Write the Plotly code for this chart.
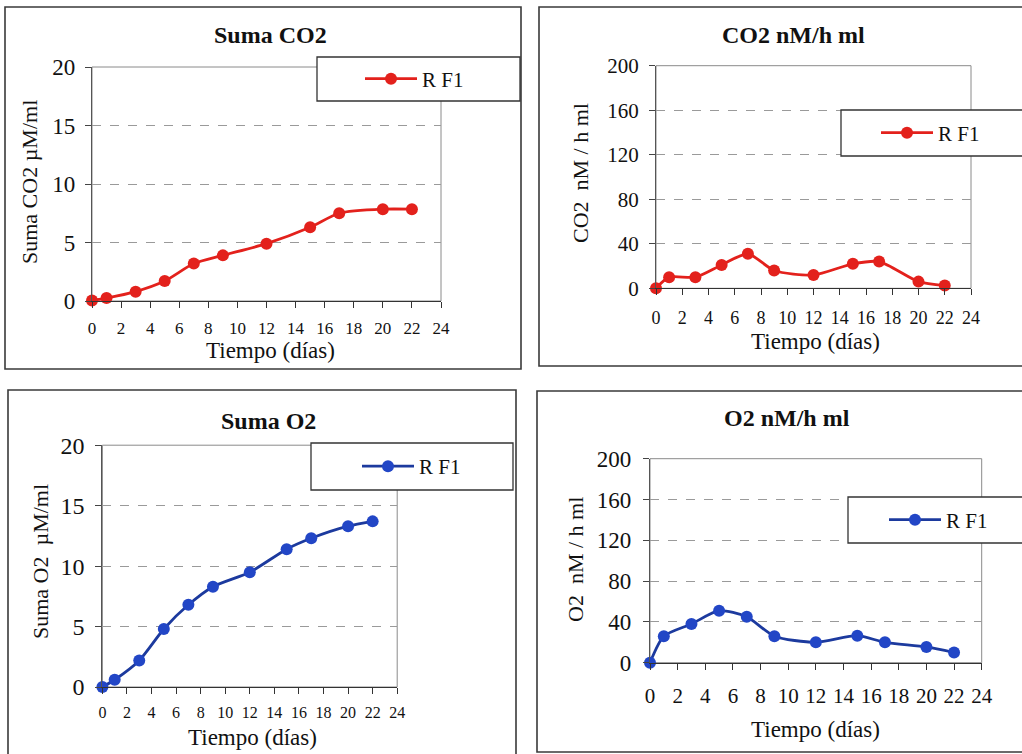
import plotly.graph_objects as go

# ---------------- data ----------------
dias = [0, 1, 3, 5, 7, 9, 12, 15, 17, 20, 22]
suma_co2 = [0.05, 0.25, 0.8, 1.7, 3.2, 3.9, 4.9, 6.3, 7.5, 7.85, 7.85]
co2_rate = [0, 10, 10, 21, 31, 16, 12, 22, 24, 6, 2.5]
suma_o2 = [0, 0.6, 2.2, 4.8, 6.8, 8.3, 9.5, 11.4, 12.3, 13.3, 13.7]
o2_rate = [0, 26, 38, 51, 45, 26, 20, 26.5, 20, 15.5, 10]

titles = ["Suma CO2", "CO2 nM/h ml", "Suma O2", "O2 nM/h ml"]
ytitles = ["Suma CO2 µM/ml", "CO2  nM / h ml", "Suma O2  µM/ml", "O2  nM / h ml"]
xtitle = "Tiempo (días)"
series_name = "R F1"
x_ticks = list(range(0, 25, 2))
y_ticks_sum = [0, 5, 10, 15, 20]
y_ticks_rate = [0, 40, 80, 120, 160, 200]

W, H = 1022, 754
FONT = "Liberation Serif"
RED = "#e3211c"
BLUE_M = "#2246c6"
BLUE_L = "#1c3a9e"


def px_x(v):
    return v / W


def px_y(v):
    return 1 - v / H


# panel geometry (pixels)
panels = [
    dict(plot=(92, 441, 67, 301), box=(5, 521, 7, 369), leg=(317, 520, 57, 101),
         title=(270, 35), ytit=(29, 182), xtit=(270, 351), yt_font=23, xt_font=17,
         xstand=5, ystand=5, yrange=20, yticks=y_ticks_sum, y=suma_co2, color=(RED, RED), legx=360),
    dict(plot=(656, 971, 65.7, 288.3), box=(539, 1030, 7, 366), leg=(841, 1030, 110, 156),
         title=(793, 35), ytit=(580, 173), xtit=(815, 341), yt_font=21, xt_font=18,
         xstand=7, ystand=6, yrange=200, yticks=y_ticks_rate, y=co2_rate, color=(RED, RED), legx=876),
    dict(plot=(102.4, 397.2, 445.2, 687), box=(8, 516, 390, 760), leg=(311, 513, 443, 490),
         title=(268, 420.5), ytit=(40, 562), xtit=(252, 737), yt_font=24, xt_font=16,
         xstand=5, ystand=6, yrange=20, yticks=y_ticks_sum, y=suma_o2, color=(BLUE_L, BLUE_M), legx=357),
    dict(plot=(650, 981.7, 458.7, 662.7), box=(537, 1030, 391, 752), leg=(848, 1030, 497, 543),
         title=(787, 418), ytit=(575, 560), xtit=(815, 729), yt_font=23, xt_font=21,
         xstand=8, ystand=7, yrange=200, yticks=y_ticks_rate, y=o2_rate, color=(BLUE_L, BLUE_M), legx=884),
]

fig = go.Figure()
shapes = []
annotations = []
layout = dict(
    width=W, height=H, autosize=False,
    margin=dict(l=0, r=0, t=0, b=0, pad=0, autoexpand=False),
    paper_bgcolor="white", plot_bgcolor="white",
    font=dict(family=FONT, color="#111"),
    showlegend=True,
)

for i, p in enumerate(panels):
    n = "" if i == 0 else str(i + 1)
    xa, ya = "xaxis" + n, "yaxis" + n
    xr, yr = "x" + n, "y" + n
    legname = "legend" + n
    x0, x1, y0, y1 = p["plot"]
    line_c, mark_c = p["color"]

    fig.add_trace(go.Scatter(
        x=dias, y=p["y"], mode="lines+markers", name=series_name,
        xaxis=xr, yaxis=yr, legend=legname, cliponaxis=False,
        line=dict(color=line_c, width=2.8, shape="spline", smoothing=0.7),
        marker=dict(color=mark_c, size=12, line=dict(width=0)),
    ))

    layout[xa] = dict(
        domain=[px_x(x0), px_x(x1)], anchor=yr, range=[0, 24], automargin=False,
        tickvals=x_ticks, ticks="outside", ticklen=6, tickcolor="#333",
        showline=True, linecolor="#333", linewidth=1.3, showgrid=False, zeroline=False,
        tickfont=dict(family=FONT, size=p["xt_font"], color="#111"),
        ticklabelstandoff=p["xstand"], fixedrange=True,
    )
    layout[ya] = dict(
        domain=[px_y(y1), px_y(y0)], anchor=xr, range=[0, p["yrange"]], automargin=False,
        tickvals=p["yticks"], ticks="outside", ticklen=6, tickcolor="#444",
        showline=True, linecolor="#555", linewidth=1.2,
        showgrid=True, gridcolor="#9a9a9a", griddash="dash", gridwidth=1, zeroline=False,
        tickfont=dict(family=FONT, size=p["yt_font"], color="#111"),
        ticklabelstandoff=p["ystand"], fixedrange=True,
    )

    # plot-area frame (gray)
    shapes.append(dict(type="rect", xref=xr + " domain", yref=yr + " domain",
                       x0=0, x1=1, y0=0, y1=1, line=dict(color="#8a8a8a", width=1),
                       layer="below"))
    # outer panel frame
    bx0, bx1, by0, by1 = p["box"]
    shapes.append(dict(type="rect", xref="paper", yref="paper",
                       x0=px_x(bx0), x1=px_x(bx1), y0=px_y(by1), y1=px_y(by0),
                       line=dict(color="#3a3a3a", width=1.6), fillcolor="rgba(0,0,0,0)",
                       layer="below"))
    # legend frame
    lx0, lx1, ly0, ly1 = p["leg"]
    shapes.append(dict(type="rect", xref="paper", yref="paper",
                       x0=px_x(lx0), x1=px_x(lx1), y0=px_y(ly1), y1=px_y(ly0),
                       line=dict(color="#333", width=1.3), fillcolor="white",
                       layer="above"))
    layout[legname] = dict(
        x=px_x(p["legx"]), xanchor="left", y=px_y((ly0 + ly1) / 2), yanchor="middle",
        bgcolor="rgba(0,0,0,0)", borderwidth=0, itemwidth=52,
        font=dict(family=FONT, size=21, color="#111"), itemclick=False, itemdoubleclick=False,
    )

    tx, ty = p["title"]
    annotations.append(dict(text="<b>" + titles[i] + "</b>", xref="paper", yref="paper",
                            x=px_x(tx), y=px_y(ty), xanchor="center", yanchor="middle",
                            showarrow=False, font=dict(family=FONT, size=24, color="#111")))
    yx, yy = p["ytit"]
    annotations.append(dict(text=ytitles[i], xref="paper", yref="paper", textangle=-90,
                            x=px_x(yx), y=px_y(yy), xanchor="center", yanchor="middle",
                            showarrow=False, font=dict(family=FONT, size=22, color="#111")))
    xx, xy = p["xtit"]
    annotations.append(dict(text=xtitle, xref="paper", yref="paper",
                            x=px_x(xx), y=px_y(xy), xanchor="center", yanchor="middle",
                            showarrow=False, font=dict(family=FONT, size=23, color="#111")))

layout["shapes"] = shapes
layout["annotations"] = annotations
fig.update_layout(**layout)
fig.write_html("out.html", config={"displayModeBar": False},
               post_script="document.body.style.margin='0px';")
